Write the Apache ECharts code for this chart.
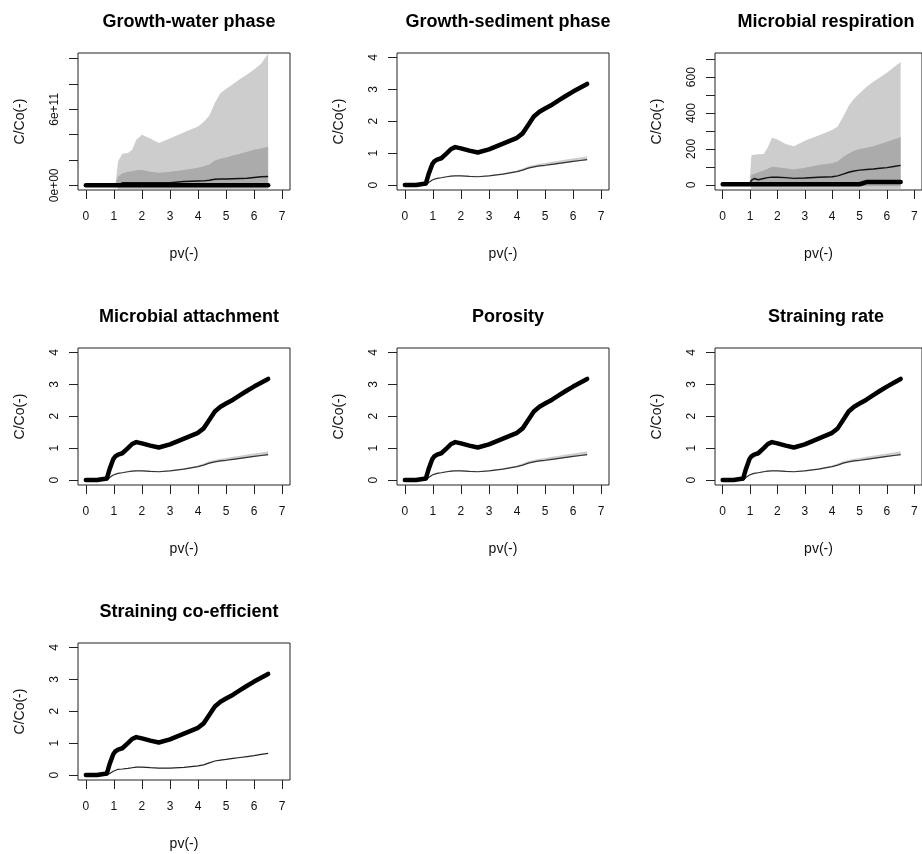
<!DOCTYPE html>
<html>
<head>
<meta charset="utf-8">
<script src="https://cdn.jsdelivr.net/npm/echarts@6/dist/echarts.min.js"></script>
<style>
html,body{margin:0;padding:0;background:#fff;}
#c{width:922px;height:854px;}
</style>
</head>
<body>
<div id="c"></div>
<script>
// ---- data ----
var pv = [0, 0.4, 0.75, 0.85, 0.98, 1.05, 1.15, 1.3, 1.5, 1.65, 1.8, 2.0, 2.3, 2.6, 3.0, 3.5, 4.0, 4.2, 4.4, 4.6, 4.8, 5.0, 5.25, 5.5, 5.75, 6.0, 6.25, 6.5];
var xTicks = [0, 1, 2, 3, 4, 5, 6, 7];

var panelTitles = ["Growth-water phase", "Growth-sediment phase", "Microbial respiration", "Microbial attachment", "Porosity", "Straining rate", "Straining co-efficient"];

// thick line (panels 2,4-7)
var observed = [0, 0, 0.05, 0.35, 0.66, 0.74, 0.8, 0.84, 1.0, 1.13, 1.19, 1.15, 1.08, 1.02, 1.12, 1.3, 1.48, 1.62, 1.88, 2.15, 2.3, 2.4, 2.52, 2.66, 2.8, 2.93, 3.05, 3.17];
// thin line and narrow band (panels 2,4,5,6)
var sensThin = [0, 0, 0, 0.08, 0.16, 0.19, 0.21, 0.23, 0.26, 0.28, 0.29, 0.29, 0.27, 0.26, 0.29, 0.34, 0.42, 0.47, 0.53, 0.57, 0.6, 0.62, 0.65, 0.68, 0.71, 0.74, 0.77, 0.8];
var sensHi = [0, 0, 0, 0.1, 0.18, 0.21, 0.23, 0.25, 0.28, 0.3, 0.31, 0.31, 0.29, 0.28, 0.31, 0.37, 0.46, 0.52, 0.59, 0.63, 0.67, 0.69, 0.73, 0.76, 0.8, 0.83, 0.86, 0.9];
var sensLo = [0, 0, 0, 0.07, 0.15, 0.18, 0.2, 0.22, 0.25, 0.27, 0.28, 0.28, 0.26, 0.25, 0.28, 0.33, 0.41, 0.45, 0.51, 0.55, 0.58, 0.6, 0.63, 0.66, 0.69, 0.72, 0.75, 0.78];
// panel 7 thin line
var coefThin = [0, 0, 0, 0.05, 0.12, 0.16, 0.18, 0.19, 0.21, 0.23, 0.25, 0.25, 0.23, 0.22, 0.22, 0.24, 0.29, 0.32, 0.38, 0.44, 0.47, 0.49, 0.52, 0.55, 0.58, 0.61, 0.65, 0.68];

// panel 1 (Growth-water phase)
var p1Thick = [0, 0, 0, 0, 0, 0, 0, 0, 0, 0, 0, 0, 0, 0, 0, 0, 0, 0, 0, 0, 0, 0, 0, 0, 0, 0, 0, 0];
var p1Thin = [0, 0, 0, 0, 0, 0, 0.05e11, 0.2e11, 0.2e11, 0.2e11, 0.2e11, 0.2e11, 0.2e11, 0.2e11, 0.2e11, 0.3e11, 0.34e11, 0.35e11, 0.4e11, 0.48e11, 0.5e11, 0.5e11, 0.52e11, 0.54e11, 0.56e11, 0.62e11, 0.68e11, 0.7e11];
var p1LightHi = [0, 0, 0, 0, 0, 0, 1.9e11, 2.5e11, 2.55e11, 2.8e11, 3.6e11, 4.0e11, 3.7e11, 3.35e11, 3.7e11, 4.2e11, 4.65e11, 5.0e11, 5.5e11, 6.5e11, 7.3e11, 7.6e11, 8.0e11, 8.4e11, 8.75e11, 9.15e11, 9.6e11, 10.4e11];
var p1LightLo = [0, 0, 0, 0, 0, 0, -0.3e11, -0.3e11, -0.3e11, -0.3e11, -0.3e11, -0.3e11, -0.3e11, -0.3e11, -0.3e11, -0.3e11, -0.3e11, -0.3e11, -0.3e11, -0.3e11, -0.3e11, -0.3e11, -0.3e11, -0.3e11, -0.3e11, -0.3e11, -0.3e11, -0.3e11];
var p1DarkHi = [0, 0, 0, 0, 0, 0, 0.7e11, 0.94e11, 1.07e11, 1.12e11, 1.18e11, 1.2e11, 1.07e11, 1.0e11, 1.07e11, 1.2e11, 1.38e11, 1.5e11, 1.65e11, 1.95e11, 2.1e11, 2.2e11, 2.35e11, 2.5e11, 2.65e11, 2.8e11, 2.9e11, 3.05e11];
var p1DarkLo = [0, 0, 0, 0, 0, 0, -0.1e11, -0.1e11, -0.1e11, -0.1e11, -0.1e11, -0.1e11, -0.1e11, -0.1e11, -0.1e11, -0.1e11, -0.1e11, -0.1e11, -0.1e11, -0.1e11, -0.1e11, -0.1e11, -0.1e11, -0.1e11, -0.1e11, -0.1e11, -0.1e11, -0.1e11];
var p1YTicks = [0, 2e11, 4e11, 6e11, 8e11, 1e12];
var p1YLabelValues = [0, 6e11];
var p1YLabelTexts = ["0e+00", "6e+11"];

// panel 3 (Microbial respiration)
var p3Thick = [3, 3, 3, 3, 3, 3, 3, 3, 3, 3, 3, 3, 3, 3, 3, 3, 3, 3, 3, 3, 3, 3, 15, 15, 15, 15, 16, 16];
var p3Thin = [0, 0, 0, 0, 5, 25, 35, 28, 35, 40, 43, 42, 40, 36, 38, 42, 45, 50, 60, 70, 77, 82, 85, 88, 92, 96, 102, 108];
var p3LightHi = [0, 0, 0, 0, 0, 165, 168, 170, 172, 210, 262, 252, 228, 215, 245, 275, 305, 325, 380, 440, 480, 510, 545, 575, 600, 625, 655, 685];
var p3LightLo = [0, 0, 0, 0, 0, -25, -25, -25, -25, -25, -25, -25, -25, -25, -25, -25, -25, -25, -25, -25, -25, -25, -25, -25, -25, -25, -25, -25];
var p3DarkHi = [0, 0, 0, 0, 0, 55, 60, 70, 80, 90, 100, 98, 92, 85, 95, 110, 120, 130, 155, 175, 190, 200, 207, 215, 228, 240, 252, 265];
var p3DarkLo = [0, 0, 0, 0, 0, -8, -8, -8, -8, -8, -8, -8, -8, -8, -8, -8, -8, -8, -8, -8, -8, -8, -8, -8, -8, -8, -8, -8];
var p3YTicks = [0, 100, 200, 300, 400, 500, 600, 700];
var p3YLabelValues = [0, 200, 400, 600];

var stdYTicks = [0, 1, 2, 3, 4];

// ---- build ----
var FONT = "Liberation Sans, Arial, sans-serif";
var LIGHT = "#cdcdcd", DARK = "#ababab";
var colLeft = [78, 397, 715], rowTop = [53, 348, 643];
var GW = 212, GH = 137;

var panels = [
  {yMin: -0.037e12, yMax: 1.045e12, ticks: p1YTicks, labels: p1YLabelValues, fmt: function (v) { var i = p1YLabelValues.indexOf(v); return i >= 0 ? p1YLabelTexts[i] : ""; },
   bands: [[p1LightLo, p1LightHi, LIGHT], [p1DarkLo, p1DarkHi, DARK]], thin: p1Thin, thinColor: "#111", thinW: 1.4, thick: p1Thick},
  {yMin: -0.155, yMax: 4.14, ticks: stdYTicks, labels: stdYTicks, bands: [[sensLo, sensHi, LIGHT]], thin: sensThin, thinColor: "#333", thinW: 1.2, thick: observed},
  {yMin: -29, yMax: 735, ticks: p3YTicks, labels: p3YLabelValues, bands: [[p3LightLo, p3LightHi, LIGHT], [p3DarkLo, p3DarkHi, DARK]], thin: p3Thin, thinColor: "#111", thinW: 1.4, thick: p3Thick},
  {yMin: -0.155, yMax: 4.14, ticks: stdYTicks, labels: stdYTicks, bands: [[sensLo, sensHi, LIGHT]], thin: sensThin, thinColor: "#333", thinW: 1.2, thick: observed},
  {yMin: -0.155, yMax: 4.14, ticks: stdYTicks, labels: stdYTicks, bands: [[sensLo, sensHi, LIGHT]], thin: sensThin, thinColor: "#333", thinW: 1.2, thick: observed},
  {yMin: -0.155, yMax: 4.14, ticks: stdYTicks, labels: stdYTicks, bands: [[sensLo, sensHi, LIGHT]], thin: sensThin, thinColor: "#333", thinW: 1.2, thick: observed},
  {yMin: -0.155, yMax: 4.14, ticks: stdYTicks, labels: stdYTicks, bands: [], thin: coefThin, thinColor: "#222", thinW: 1.2, thick: observed}
];

var grids = [], xAxes = [], yAxes = [], series = [], titles = [];

function bandSeries(gi, lo, hi, color) {
  return {
    type: "custom", xAxisIndex: gi, yAxisIndex: gi, silent: true, clip: true, z: 1,
    data: [[pv[0], lo[0]]],
    renderItem: function (params, api) {
      var pts = [], i;
      for (i = 0; i < pv.length; i++) pts.push(api.coord([pv[i], hi[i]]));
      for (i = pv.length - 1; i >= 0; i--) pts.push(api.coord([pv[i], lo[i]]));
      return {type: "polygon", shape: {points: pts}, style: {fill: color, stroke: null}};
    }
  };
}

panels.forEach(function (p, gi) {
  var r = Math.floor(gi / 3), c = gi % 3;
  var L = colLeft[c], T = rowTop[r];
  grids.push({left: L, top: T, width: GW, height: GH, show: true, borderColor: "#222", borderWidth: 1, backgroundColor: "transparent", containLabel: false});
  titles.push({text: panelTitles[gi], left: L + GW / 2, top: T - 45, textAlign: "center",
    textStyle: {fontFamily: FONT, fontSize: 18, fontWeight: "bold", color: "#000"}});
  xAxes.push({
    gridIndex: gi, type: "value", min: -0.28, max: 7.28,
    axisLine: {show: false, onZero: false}, splitLine: {show: false},
    axisTick: {show: true, length: 9, customValues: xTicks, lineStyle: {color: "#222", width: 1}},
    axisLabel: {customValues: xTicks, margin: 21, fontFamily: FONT, fontSize: 12, color: "#111"},
    name: "pv(-)", nameLocation: "middle", nameGap: 57,
    nameTextStyle: {fontFamily: FONT, fontSize: 14, color: "#111"}
  });
  var yl = {customValues: p.labels, rotate: 90, margin: 17, fontFamily: FONT, fontSize: 12, color: "#111"};
  if (p.fmt) yl.formatter = p.fmt;
  yAxes.push({
    gridIndex: gi, type: "value", min: p.yMin, max: p.yMax,
    axisLine: {show: false, onZero: false}, splitLine: {show: false},
    axisTick: {show: true, length: 9, customValues: p.ticks, lineStyle: {color: "#222", width: 1}},
    axisLabel: yl,
    name: "C/Co(-)", nameLocation: "middle", nameGap: 51,
    nameTextStyle: {fontFamily: FONT, fontSize: 14, color: "#111"}
  });
  p.bands.forEach(function (b) { series.push(bandSeries(gi, b[0], b[1], b[2])); });
  series.push({type: "line", xAxisIndex: gi, yAxisIndex: gi, showSymbol: false, silent: true, z: 3,
    data: pv.map(function (x, i) { return [x, p.thin[i]]; }),
    lineStyle: {color: p.thinColor, width: p.thinW}});
  series.push({type: "line", xAxisIndex: gi, yAxisIndex: gi, showSymbol: false, silent: true, z: 4,
    data: pv.map(function (x, i) { return [x, p.thick[i]]; }),
    lineStyle: {color: "#000", width: 4.5, join: "round", cap: "round"}});
});

var chart = echarts.init(document.getElementById("c"), null, {renderer: "canvas"});
chart.setOption({
  animation: false,
  backgroundColor: "#fff",
  title: titles,
  grid: grids,
  xAxis: xAxes,
  yAxis: yAxes,
  series: series
});
</script>
</body>
</html>
